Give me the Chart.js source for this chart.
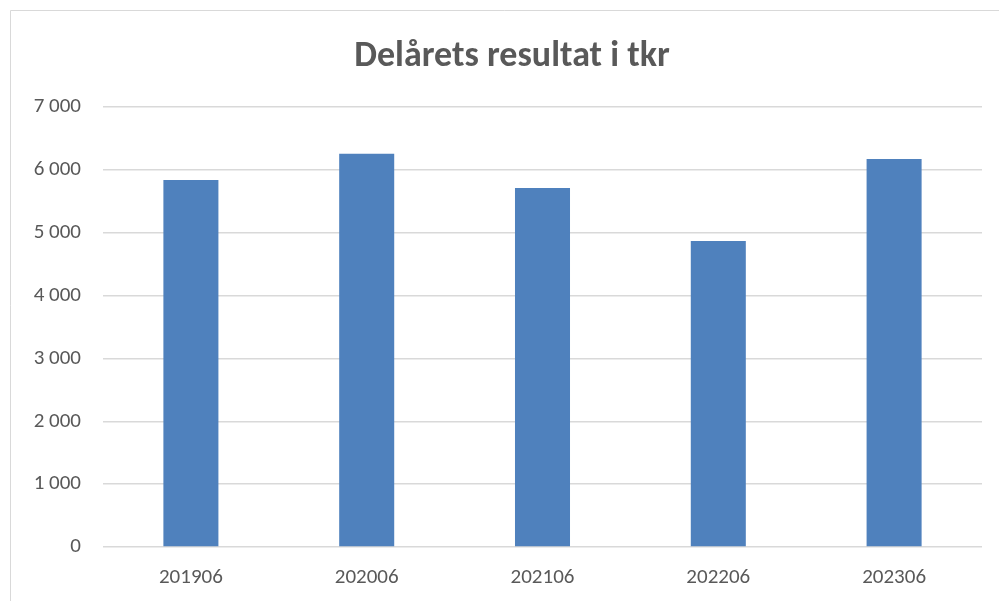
<!DOCTYPE html>
<html>
<head>
<meta charset="utf-8">
<script src="https://cdn.jsdelivr.net/npm/chart.js@4.4.1/dist/chart.umd.min.js"></script>
<style>
  html, body { margin: 0; padding: 0; background: #fff; }
  #wrap { width: 999px; height: 601px; position: relative; }
</style>
</head>
<body>
<div id="wrap"><canvas id="chart"></canvas></div>
<script>
const labels = ["201906", "202006", "202106", "202206", "202306"];
const results = [5840, 6260, 5715, 4870, 6175];
const yTicks = [0, 1000, 2000, 3000, 4000, 5000, 6000, 7000];

const textColor = "#595959";
const font = "Calibri, Carlito, Lato, 'Liberation Sans', sans-serif";

function spaced(v) {
  return String(v).replace(/\B(?=(\d{3})+(?!\d))/g, " ");
}

// light frame round the chart, like the exported Excel picture
const frame = {
  id: "frame",
  beforeDraw(chart) {
    const ctx = chart.ctx;
    ctx.save();
    ctx.fillStyle = "#fff";
    ctx.fillRect(0, 0, chart.width, chart.height);
    ctx.strokeStyle = "#D9D9D9";
    ctx.lineWidth = 1;
    ctx.beginPath();
    ctx.moveTo(10.5, chart.height);
    ctx.lineTo(10.5, 10.5);
    ctx.lineTo(chart.width, 10.5);
    ctx.stroke();
    ctx.restore();
  },
  // title sits a bit right of the canvas middle in the original
  afterLayout(chart) {
    if (chart.titleBlock) chart.titleBlock.left += 42;
  },
};

new Chart(document.getElementById("chart"), {
  type: "bar",
  data: {
    labels: labels,
    datasets: [
      {
        data: results,
        backgroundColor: "#4F81BD",
        borderWidth: 0,
        barPercentage: 1,
        categoryPercentage: 0.313,
      },
    ],
  },
  options: {
    responsive: true,
    maintainAspectRatio: false,
    animation: false,
    layout: {
      padding: { left: 0, right: 17, top: 0, bottom: 0 },
    },
    plugins: {
      legend: { display: false },
      tooltip: { enabled: false },
      title: {
        display: true,
        text: "Delårets resultat i tkr",
        color: textColor,
        font: { family: font, size: 36, weight: "bold", lineHeight: 1.2 },
        padding: { top: 35, bottom: 29 },
      },
    },
    scales: {
      x: {
        grid: { display: false, drawTicks: false },
        border: { display: false },
        ticks: {
          color: textColor,
          font: { family: font, size: 21 },
          padding: 18,
          maxRotation: 0,
        },
        afterFit(scale) {
          scale.height = 54;
        },
      },
      y: {
        min: 0,
        max: 7000,
        afterBuildTicks(scale) {
          scale.ticks = yTicks.map((v) => ({ value: v }));
        },
        grid: { color: "#D9D9D9", lineWidth: 1.5, drawTicks: false },
        border: { display: false },
        ticks: {
          color: textColor,
          font: { family: font, size: 21 },
          padding: 22,
          callback: (v) => spaced(v),
        },
        afterFit(scale) {
          scale.width = 103;
        },
      },
    },
  },
  plugins: [frame],
});
</script>
</body>
</html>
